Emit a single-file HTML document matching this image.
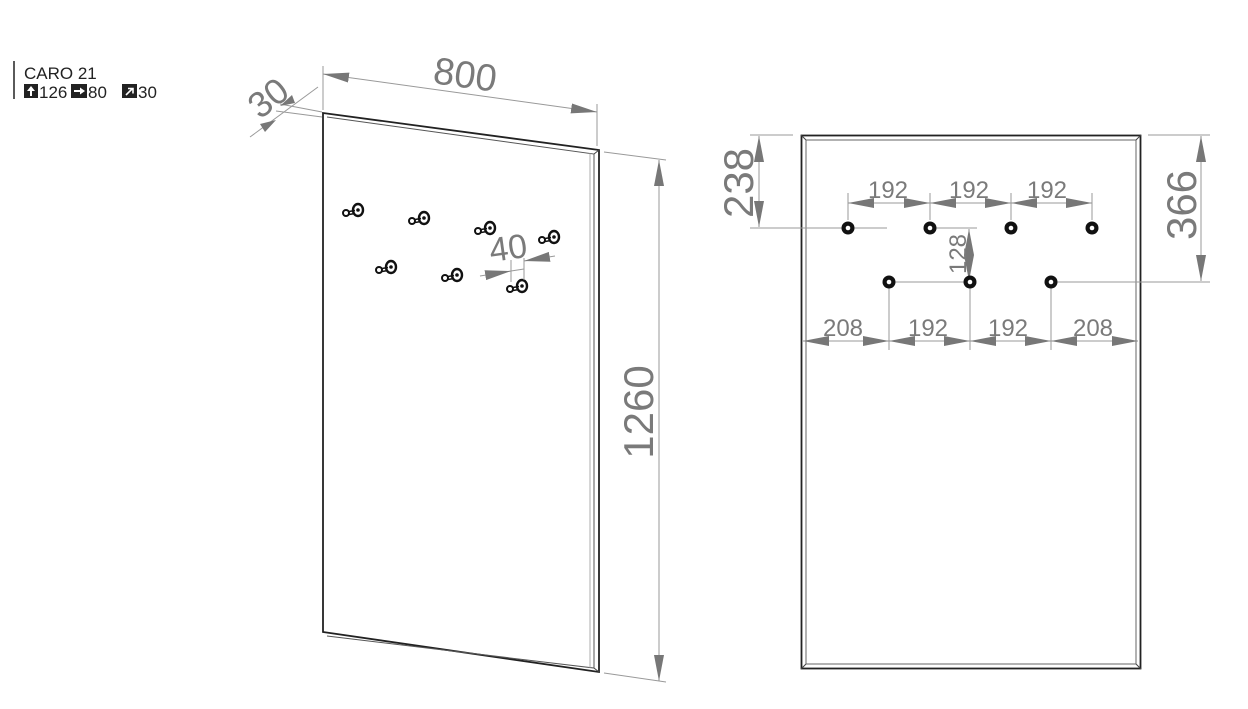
<!DOCTYPE html>
<html><head><meta charset="utf-8"><style>
html,body{margin:0;padding:0;background:#fff;}
svg{display:block}
.d{font-family:"Liberation Sans",sans-serif;fill:#7a7a7a;}
</style></head><body>
<svg width="1248" height="709" viewBox="0 0 1248 709" xmlns="http://www.w3.org/2000/svg">
<defs>
<marker id="a" viewBox="0 0 26 10" refX="26" refY="5" markerWidth="26" markerHeight="10" markerUnits="userSpaceOnUse" orient="auto-start-reverse">
<path d="M0,0 L26,5 L0,10 z" fill="#777"/></marker>
<g id="hk">
<circle cx="-9" cy="2" r="3" fill="none" stroke="#111" stroke-width="2"/>
<path d="M-6,0.5 L0,-0.5 M-6,3.5 L0,2.5" stroke="#111" stroke-width="1.5"/>
<ellipse cx="3" cy="-1" rx="5" ry="6" fill="none" stroke="#111" stroke-width="2.4"/>
<circle cx="3" cy="-1" r="1.8" fill="#111"/>
</g>
<g id="h"><circle r="6.5" fill="#111"/><circle r="2.3" fill="#fff"/></g>
</defs>

<!-- header -->
<line x1="14" y1="61" x2="14" y2="99" stroke="#222" stroke-width="1.5"/>
<text x="24" y="79" font-family="Liberation Sans,sans-serif" font-size="17" fill="#222">CARO 21</text>
<rect x="24" y="84" width="14" height="14" fill="#222"/><path d="M31,86 L27,91 L30,91 L30,96 L32,96 L32,91 L35,91 z" fill="#fff"/>
<text x="39" y="98" font-family="Liberation Sans,sans-serif" font-size="17" fill="#222">126</text>
<rect x="71" y="84" width="16" height="14" fill="#222"/><path d="M74,90 L80,90 L80,87.5 L85,91 L80,94.5 L80,92 L74,92 z" fill="#fff"/>
<text x="88" y="98" font-family="Liberation Sans,sans-serif" font-size="17" fill="#222">80</text>
<rect x="122" y="84" width="15" height="14" fill="#222"/><path d="M126,95 L132,89 M128,88.5 L133,88.5 L133,93.5" stroke="#fff" stroke-width="1.6" fill="none"/>
<text x="138" y="98" font-family="Liberation Sans,sans-serif" font-size="17" fill="#222">30</text>

<!-- left panel -->
<g fill="none" stroke-linejoin="miter">
<path d="M323,113 L599,150 L599,672 L323,632 Z" stroke="#222" stroke-width="1.8"/>
<path d="M327,117 L594,154 L594,668 L327,636" stroke="#555" stroke-width="1"/>
<path d="M594,154 L599,150 M594,668 L599,672" stroke="#444" stroke-width="1"/>
<path d="M590,153 L590,668" stroke="#999" stroke-width="0.8"/>
</g>
<!-- hooks -->
<use href="#hk" x="355" y="211"/>
<use href="#hk" x="421" y="219"/>
<use href="#hk" x="487" y="229"/>
<use href="#hk" x="551" y="238"/>
<use href="#hk" x="388" y="268"/>
<use href="#hk" x="454" y="276"/>
<use href="#hk" x="519" y="287"/>

<!-- 40 dim -->
<g stroke="#999" stroke-width="1" fill="none">
<line x1="511" y1="260" x2="511" y2="282"/><line x1="524" y1="258" x2="524" y2="280"/>
<line x1="480" y1="276" x2="511" y2="271" marker-end="url(#a)"/>
<line x1="555" y1="256" x2="524" y2="261" marker-end="url(#a)"/>
<line x1="511" y1="271" x2="524" y2="269"/>
</g>
<text class="d" x="0" y="0" font-size="34" transform="translate(491,262) rotate(-8)">40</text>

<!-- 800 dim -->
<g stroke="#999" stroke-width="1" fill="none">
<line x1="323" y1="66" x2="323" y2="110"/>
<line x1="597" y1="104" x2="597" y2="146"/>
<line x1="323" y1="74" x2="597" y2="112" marker-start="url(#a)" marker-end="url(#a)"/>
</g>
<text class="d" font-size="38" transform="translate(432,83) rotate(8)">800</text>

<!-- 30 dim -->
<g stroke="#999" stroke-width="1" fill="none">
<line x1="280" y1="104" x2="322" y2="112"/>
<line x1="276" y1="111" x2="322" y2="117"/>
<line x1="250" y1="137" x2="318" y2="87"/>
</g>
<path d="M276,120 L265,132 L260,124 z M280,106 L292,95 L295,103 z" fill="#777"/>
<text class="d" font-size="36" transform="translate(260,120) rotate(-38)">30</text>

<!-- 1260 dim -->
<g stroke="#999" stroke-width="1" fill="none">
<line x1="604" y1="152" x2="666" y2="160"/>
<line x1="604" y1="673" x2="666" y2="682"/>
<line x1="659" y1="160" x2="659" y2="681" marker-start="url(#a)" marker-end="url(#a)"/>
</g>
<text class="d" font-size="42" text-anchor="middle" transform="translate(653,412) rotate(-90)">1260</text>

<!-- right panel -->
<rect x="801.5" y="135.5" width="339" height="533" fill="none" stroke="#222" stroke-width="1.8"/>
<rect x="806" y="140" width="330" height="524" fill="none" stroke="#666" stroke-width="1"/>
<path d="M801,135 L806,140 M1141,135 L1136,140 M801,669 L806,664 M1141,669 L1136,664" stroke="#444"/>

<g stroke="#999" stroke-width="1" fill="none">
<line x1="750" y1="135" x2="793" y2="135"/>
<line x1="750" y1="228" x2="887" y2="228"/>
<line x1="759" y1="136" x2="759" y2="227" marker-start="url(#a)" marker-end="url(#a)"/>
<line x1="1148" y1="135" x2="1210" y2="135"/>
<line x1="1055" y1="282" x2="1210" y2="282"/>
<line x1="1201" y1="136" x2="1201" y2="281" marker-start="url(#a)" marker-end="url(#a)"/>
<line x1="848" y1="193" x2="848" y2="220"/><line x1="930" y1="193" x2="930" y2="220"/>
<line x1="1011" y1="193" x2="1011" y2="220"/><line x1="1092" y1="193" x2="1092" y2="220"/>
<line x1="848" y1="203" x2="930" y2="203" marker-start="url(#a)" marker-end="url(#a)"/>
<line x1="930" y1="203" x2="1011" y2="203" marker-start="url(#a)" marker-end="url(#a)"/>
<line x1="1011" y1="203" x2="1092" y2="203" marker-start="url(#a)" marker-end="url(#a)"/>
<line x1="930" y1="228" x2="977" y2="228"/>
<line x1="969" y1="229" x2="969" y2="281" marker-start="url(#a)" marker-end="url(#a)"/>
<line x1="895" y1="282" x2="964" y2="282"/>
<line x1="1057" y1="282" x2="1148" y2="282"/>
<line x1="889" y1="288" x2="889" y2="350"/><line x1="970" y1="288" x2="970" y2="350"/><line x1="1051" y1="288" x2="1051" y2="350"/>
<line x1="803" y1="341" x2="889" y2="341" marker-start="url(#a)" marker-end="url(#a)"/>
<line x1="889" y1="341" x2="970" y2="341" marker-start="url(#a)" marker-end="url(#a)"/>
<line x1="970" y1="341" x2="1051" y2="341" marker-start="url(#a)" marker-end="url(#a)"/>
<line x1="1051" y1="341" x2="1138" y2="341" marker-start="url(#a)" marker-end="url(#a)"/>
</g>
<use href="#h" x="848" y="228"/><use href="#h" x="930" y="228"/><use href="#h" x="1011" y="228"/><use href="#h" x="1092" y="228"/>
<use href="#h" x="889" y="282"/><use href="#h" x="970" y="282"/><use href="#h" x="1051" y="282"/>

<text class="d" font-size="42" text-anchor="middle" transform="translate(753,183) rotate(-90)">238</text>
<text class="d" font-size="42" text-anchor="middle" transform="translate(1196,205) rotate(-90)">366</text>
<text class="d" font-size="24" text-anchor="middle" transform="translate(966,254) rotate(-90)">128</text>
<g class="d" font-size="24" text-anchor="middle">
<text x="888" y="198">192</text><text x="969" y="198">192</text><text x="1047" y="198">192</text>
<text x="843" y="336">208</text><text x="928" y="336">192</text><text x="1008" y="336">192</text><text x="1093" y="336">208</text>
</g>
</svg>
</body></html>
